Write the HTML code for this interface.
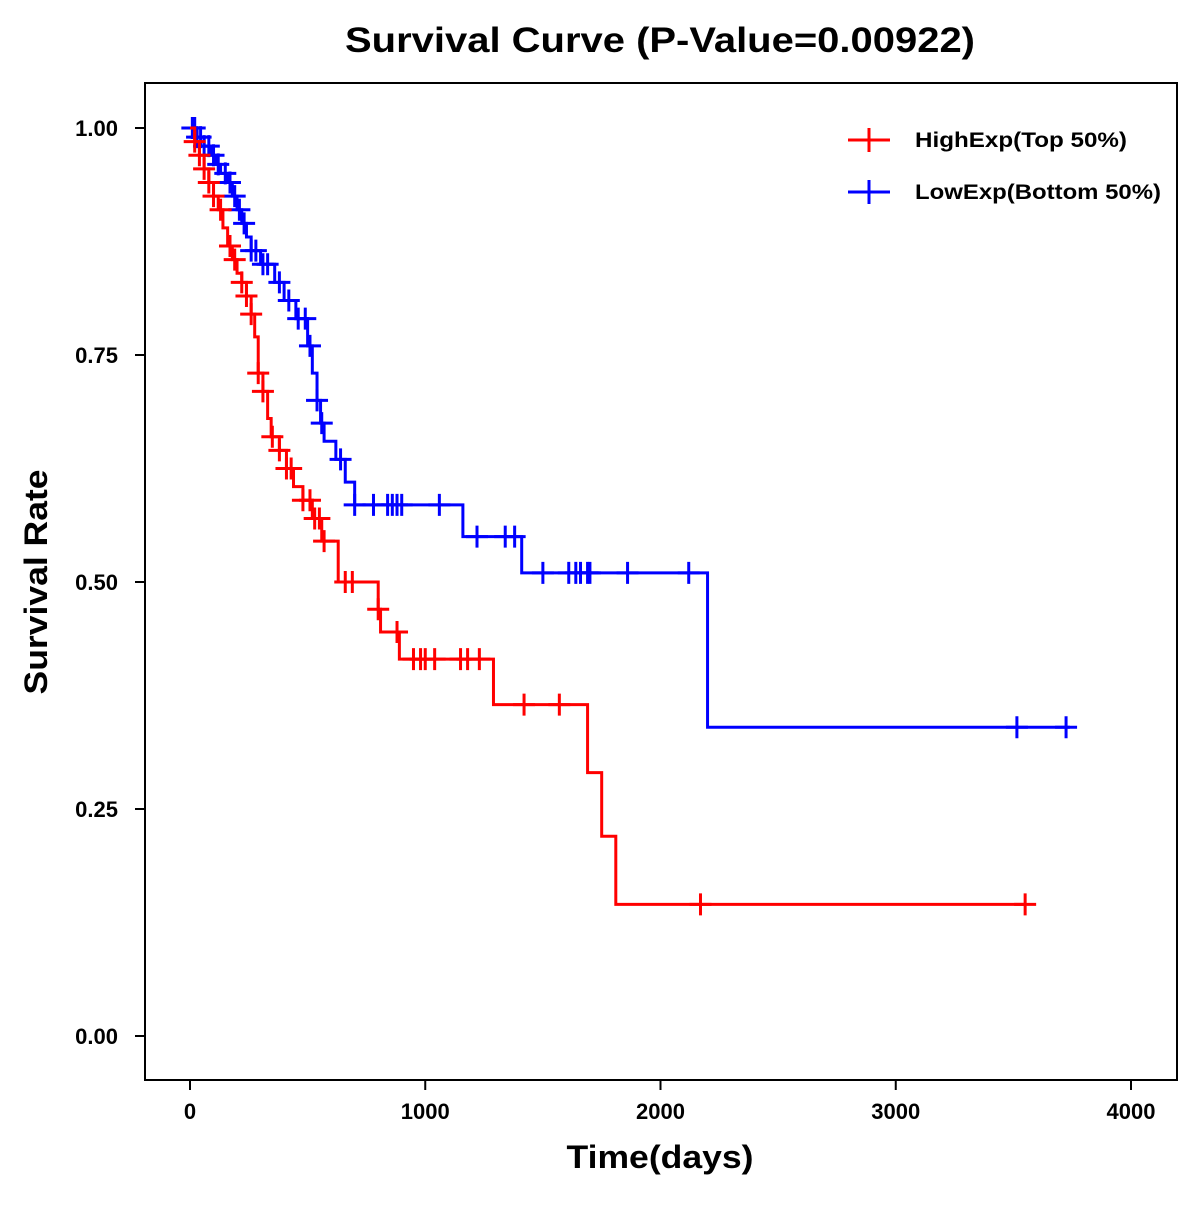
<!DOCTYPE html>
<html><head><meta charset="utf-8"><style>
body{margin:0;background:#fff;}
svg{font-family:"Liberation Sans",Arial,sans-serif;}
</style></head><body>
<svg id="chart" width="1200" height="1200" viewBox="0 0 1200 1200">
<rect x="0" y="0" width="1200" height="1200" fill="#fff"/>
<text x="660" y="52" text-anchor="middle" font-size="35" font-weight="bold" textLength="630" lengthAdjust="spacingAndGlyphs">Survival Curve (P-Value=0.00922)</text>
<rect x="145" y="83" width="1032" height="997" fill="none" stroke="#000" stroke-width="2"/>
<g id="axes"></g>
<g id="series"></g>
<text x="660" y="1168" text-anchor="middle" font-size="32" font-weight="bold" textLength="187" lengthAdjust="spacingAndGlyphs">Time(days)</text>
<text transform="translate(47,582) rotate(-90)" text-anchor="middle" font-size="32" font-weight="bold" textLength="225" lengthAdjust="spacingAndGlyphs">Survival Rate</text>
<g>
<g>
<line x1="848" y1="140" x2="890" y2="140" stroke="#f00" stroke-width="3"/><line x1="869" y1="128" x2="869" y2="152" stroke="#f00" stroke-width="3"/>
<text x="915" y="147" font-size="21" font-weight="bold" textLength="212" lengthAdjust="spacingAndGlyphs">HighExp(Top 50%)</text></g>
<g>
<line x1="848" y1="192" x2="890" y2="192" stroke="#00f" stroke-width="3"/><line x1="869" y1="180" x2="869" y2="204" stroke="#00f" stroke-width="3"/>
<text x="915" y="199" font-size="21" font-weight="bold" textLength="246" lengthAdjust="spacingAndGlyphs">LowExp(Bottom 50%)</text></g>
</g>
</svg>
<script>
const xTicks=[0,1000,2000,3000,4000];
const yTicks=[0,0.25,0.5,0.75,1.0];
const yTickLabels=["0.00","0.25","0.50","0.75","1.00"];
const highTimes=[0,20,40,60,80,100,120,140,160,180,200,220,240,260,275,290,310,330,345,380,410,440,480,520,560,630,800,810,890,1290,1690,1750,1810];
const highSurv=[1.0,0.985,0.97,0.955,0.94,0.925,0.91,0.89,0.87,0.855,0.84,0.83,0.815,0.795,0.77,0.73,0.71,0.68,0.66,0.645,0.625,0.605,0.59,0.57,0.545,0.5,0.47,0.445,0.415,0.365,0.29,0.22,0.145];
const highEnd=3550;
const highCensor=[20,40,60,80,100,130,170,190,220,240,260,290,310,350,380,410,430,480,510,530,550,570,660,690,800,880,950,980,1000,1040,1150,1180,1230,1420,1570,2170,3550];
const lowTimes=[0,30,60,90,110,130,160,180,200,220,240,260,300,360,400,450,500,520,540,555,570,620,660,700,1160,1410,2200];
const lowSurv=[1.0,0.99,0.98,0.97,0.96,0.95,0.94,0.925,0.91,0.895,0.88,0.865,0.85,0.83,0.81,0.79,0.76,0.73,0.70,0.675,0.655,0.635,0.61,0.585,0.55,0.51,0.34];
const lowEnd=3740;
const lowCensor=[10,20,30,45,60,80,100,120,150,170,190,210,230,260,280,310,330,380,420,460,490,510,540,560,640,700,780,840,860,880,900,1060,1220,1340,1380,1500,1610,1640,1660,1690,1700,1860,2120,3515,3724];
const NS="http://www.w3.org/2000/svg";
const X=t=>190+t*0.23525;
const Y=s=>1036-s*908;
function mk(tag,attrs,parent){const e=document.createElementNS(NS,tag);for(const k in attrs)e.setAttribute(k,attrs[k]);parent.appendChild(e);return e;}
const ax=document.getElementById('axes');
xTicks.forEach(t=>{
  const l=mk('line',{x1:X(t),x2:X(t),y1:1080,y2:1090,stroke:'#000','stroke-width':2},ax);
  
  
  const tx=mk('text',{x:X(t),y:1119,'text-anchor':'middle','font-size':22,'font-weight':'bold'},ax);
  tx.textContent=t;
  
  
});
yTicks.forEach((v,i)=>{
  const l=mk('line',{x1:135,x2:145,y1:Y(v),y2:Y(v),stroke:'#000','stroke-width':2},ax);
  
  
  const tx=mk('text',{x:118,y:Y(v)+8,'text-anchor':'end','font-size':22,'font-weight':'bold'},ax);
  tx.textContent=yTickLabels[i];
  
  
});
const sg=document.getElementById('series');
function survAt(times,surv,t){let s=surv[0];for(let i=0;i<times.length;i++){if(times[i]<=t)s=surv[i];}return s;}
function draw(times,surv,end,cens,color,name){
  let d='M'+X(times[0])+','+Y(surv[0]);
  for(let i=1;i<times.length;i++){d+=' H'+X(times[i])+' V'+Y(surv[i]);}
  d+=' H'+X(end);
  const p=mk('path',{d:d,fill:'none',stroke:color,'stroke-width':3},sg);
  
  
  cens.forEach(t=>{
    const s=survAt(times,surv,t);const cx=X(t),cy=Y(s);
    const g=mk('path',{d:`M${cx-11},${cy} H${cx+11} M${cx},${cy-11} V${cy+11}`,stroke:color,'stroke-width':3},sg);
    
    
  });
}
draw(lowTimes,lowSurv,lowEnd,lowCensor,'#00f','low-exp');
draw(highTimes,highSurv,highEnd,highCensor,'#f00','high-exp');
</script>
</body></html>
